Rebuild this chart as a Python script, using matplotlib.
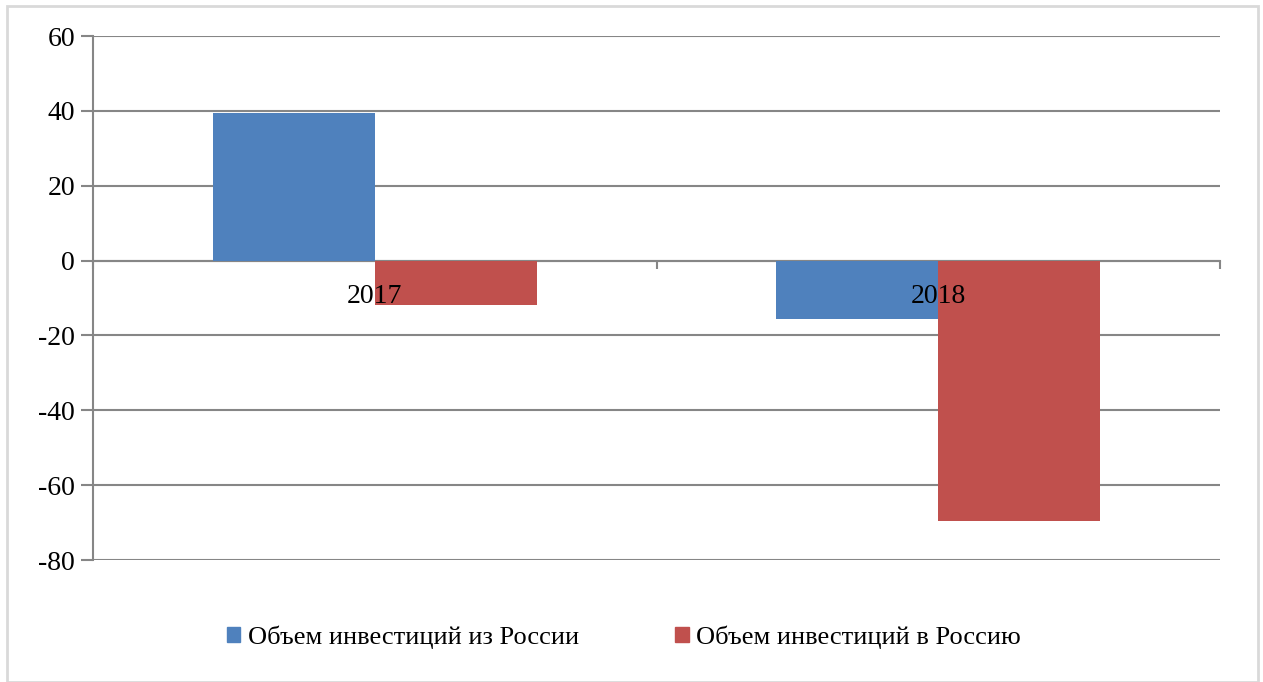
import matplotlib.pyplot as plt
from matplotlib.patches import Rectangle
import numpy as np

plt.rcParams['font.family'] = ['Liberation Serif', 'DejaVu Serif']

years = ['2017', '2018']
from_russia = [39.3, -15.5]
to_russia = [-12.0, -69.5]
series_names = ['Объем инвестиций из России', 'Объем инвестиций в Россию']
colors = ['#4f81bd', '#c0504d']
yticks = [60, 40, 20, 0, -20, -40, -60, -80]

fig = plt.figure(figsize=(12.63, 6.82), dpi=100)
ax = fig.add_axes([93 / 1263, 1 - 560 / 682, (1220 - 93) / 1263, (560 - 36) / 682])

x = np.arange(len(years))
w = 0.2875
ax.bar(x - w / 2, from_russia, w, color=colors[0], zorder=2)
ax.bar(x + w / 2, to_russia, w, color=colors[1], zorder=2)

ax.set_xlim(-0.5, len(years) - 0.5)
ax.set_ylim(-80, 60)
ax.set_yticks(yticks)
ax.set_yticklabels([str(v) for v in yticks], fontsize=20)
ax.grid(axis='y', color='#868686', linewidth=1.5, zorder=0)
ax.set_axisbelow(True)

for s in ['top', 'right']:
    ax.spines[s].set_visible(False)
ax.spines['left'].set_color('#868686')
ax.spines['left'].set_linewidth(1.5)
ax.spines['bottom'].set_position(('data', 0))
ax.spines['bottom'].set_color('#868686')
ax.spines['bottom'].set_linewidth(1.5)
ax.spines['bottom'].set_zorder(1)
ax.tick_params(axis='y', length=9, width=1.5, color='#868686', pad=4)
ax.set_xticks([-0.5, 0.5, 1.5])
ax.set_xticklabels(['', '', ''])
ax.tick_params(axis='x', length=6, width=1.5, color='#868686')

for i, y in enumerate(years):
    ax.annotate(y, (i, 0), xytext=(0, -26), textcoords='offset points',
                ha='center', va='center', fontsize=20, zorder=5)

handles = [Rectangle((0, 0), 1, 1, color=c) for c in colors]
fig.legend(handles, series_names, loc='center', bbox_to_anchor=(624 / 1263, 1 - 637 / 682),
           ncol=2, frameon=False, fontsize=19, handlelength=0.5, handleheight=0.5,
           handletextpad=0.3, columnspacing=3.65)

fig.add_artist(Rectangle((7 / 1263, 0), 1251 / 1263, 676 / 682, transform=fig.transFigure,
                         fill=False, edgecolor='#d9d9d9', linewidth=2))

fig.savefig('out.png', dpi=100)
